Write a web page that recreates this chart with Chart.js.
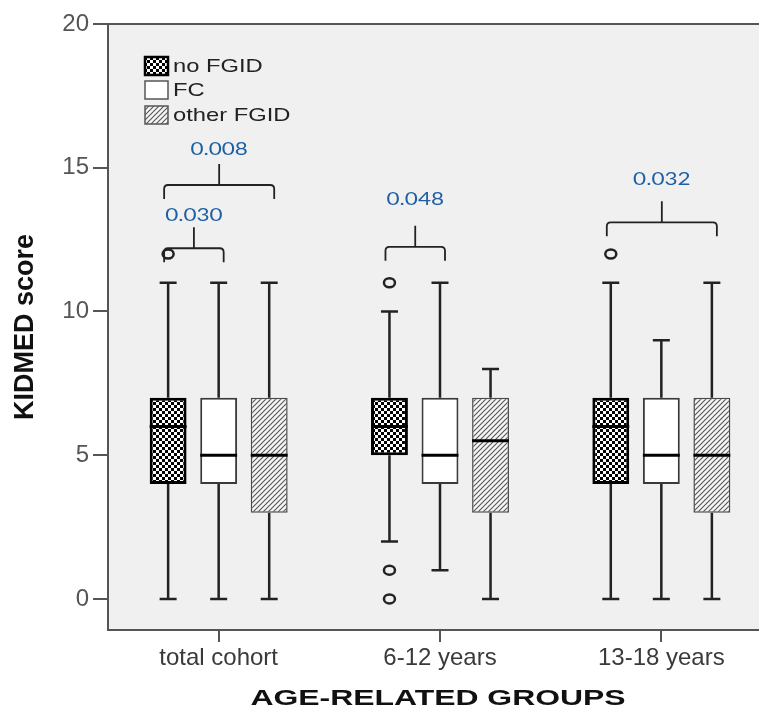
<!DOCTYPE html>
<html>
<head>
<meta charset="utf-8">
<title>KIDMED score by age-related groups</title>
<script src="https://cdn.jsdelivr.net/npm/chart.js@4.4.1/dist/chart.umd.min.js"></script>
<style>
  html, body { margin: 0; padding: 0; background: #fff; overflow: hidden; }
  #chart { display: block; }
</style>
</head>
<body>
<canvas id="chart" width="772" height="711"></canvas>
<script>
const categories = ['total cohort', '6-12 years', '13-18 years'];
const seriesNames = ['no FGID', 'FC', 'other FGID'];
const yTickValues = [0, 5, 10, 15, 20];

// box plot stats, one value per age group
const noFgidMin = [0, 2, 0];
const noFgidQ1 = [4, 5, 4];
const noFgidMedian = [6, 6, 6];
const noFgidQ3 = [7, 7, 7];
const noFgidMax = [11, 10, 11];
const noFgidOutliers = [[12], [11, 1, 0], [12]];

const fcMin = [0, 1, 0];
const fcQ1 = [4, 4, 4];
const fcMedian = [5, 5, 5];
const fcQ3 = [7, 7, 7];
const fcMax = [11, 11, 9];
const fcOutliers = [[], [], []];

const otherMin = [0, 0, 0];
const otherQ1 = [3, 3, 3];
const otherMedian = [5, 5.5, 5];
const otherQ3 = [7, 7, 7];
const otherMax = [11, 8, 11];
const otherOutliers = [[], [], []];

// significance brackets: group, first box, last box, bracket level, label level
const bracketGroup = [0, 0, 1, 2];
const bracketFrom = [0, 0, 0, 0];
const bracketTo = [2, 1, 1, 2];
const bracketLevel = [14.4, 12.2, 12.25, 13.1];
const pLabelLevel = [15.65, 13.36, 13.9, 14.6];
const pLabels = ['0.008', '0.030', '0.048', '0.032'];

const stats = [
  { min: noFgidMin, q1: noFgidQ1, median: noFgidMedian, q3: noFgidQ3, max: noFgidMax, out: noFgidOutliers },
  { min: fcMin, q1: fcQ1, median: fcMedian, q3: fcQ3, max: fcMax, out: fcOutliers },
  { min: otherMin, q1: otherQ1, median: otherMedian, q3: otherQ3, max: otherMax, out: otherOutliers }
];

const fontFamily = "'Liberation Sans', Arial, sans-serif";

// fill patterns
function makeTile(size, draw) {
  const c = document.createElement('canvas');
  c.width = size;
  c.height = size;
  draw(c.getContext('2d'), size);
  return c;
}

const checkTile = makeTile(6, (g, s) => {
  g.fillStyle = '#000';
  g.fillRect(0, 0, s, s);
  g.fillStyle = '#fff';
  g.fillRect(0, 0, 3, 3);
  g.fillRect(3, 3, 3, 3);
});

const hatchTile = makeTile(5, (g, s) => {
  g.fillStyle = '#f6f6f6';
  g.fillRect(0, 0, s, s);
  g.strokeStyle = '#5a5a5a';
  g.lineWidth = 1.2;
  g.beginPath();
  g.moveTo(0, s); g.lineTo(s, 0);
  g.moveTo(-1, 1); g.lineTo(1, -1);
  g.moveTo(s - 1, s + 1); g.lineTo(s + 1, s - 1);
  g.stroke();
});

const mainCtx = document.getElementById('chart').getContext('2d');
const fills = [
  mainCtx.createPattern(checkTile, 'repeat'),
  '#ffffff',
  mainCtx.createPattern(hatchTile, 'repeat')
];
const borders = ['#000000', '#3a3a3a', '#4a4a4a'];
const borderWidths = [3, 2, 1.5];

function stretchText(ctx, text, x, y, sx, align) {
  ctx.save();
  ctx.translate(x, y);
  ctx.scale(sx, 1);
  ctx.textAlign = align;
  ctx.fillText(text, 0, 0);
  ctx.restore();
}

const boxExtras = {
  id: 'boxExtras',
  beforeDraw(chart) {
    const { ctx, chartArea: a } = chart;
    ctx.save();
    ctx.fillStyle = '#fff';
    ctx.fillRect(0, 0, chart.width, chart.height);
    ctx.fillStyle = '#f0f0f0';
    ctx.fillRect(a.left, a.top, a.right - a.left, a.bottom - a.top);
    ctx.restore();
  },
  beforeDatasetsDraw(chart) {
    // whiskers sit behind the boxes
    const { ctx, scales: { y } } = chart;
    ctx.save();
    ctx.strokeStyle = '#222';
    ctx.lineWidth = 2.5;
    stats.forEach((s, di) => {
      chart.getDatasetMeta(di).data.forEach((bar, i) => {
        const x = bar.x;
        const hi = y.getPixelForValue(s.max[i]);
        const lo = y.getPixelForValue(s.min[i]);
        ctx.beginPath();
        ctx.moveTo(x, hi); ctx.lineTo(x, y.getPixelForValue(s.q3[i]));
        ctx.moveTo(x, y.getPixelForValue(s.q1[i])); ctx.lineTo(x, lo);
        ctx.moveTo(x - 8.5, hi); ctx.lineTo(x + 8.5, hi);
        ctx.moveTo(x - 8.5, lo); ctx.lineTo(x + 8.5, lo);
        ctx.stroke();
      });
    });
    ctx.restore();
  },
  afterDatasetsDraw(chart) {
    const { ctx, chartArea: a, scales: { y } } = chart;
    ctx.save();

    // medians and outliers
    stats.forEach((s, di) => {
      chart.getDatasetMeta(di).data.forEach((bar, i) => {
        const m = y.getPixelForValue(s.median[i]);
        ctx.strokeStyle = '#000';
        ctx.lineWidth = 3;
        ctx.beginPath();
        ctx.moveTo(bar.x - bar.width / 2, m);
        ctx.lineTo(bar.x + bar.width / 2, m);
        ctx.stroke();
        s.out[i].forEach(v => {
          ctx.strokeStyle = '#222';
          ctx.lineWidth = 2.5;
          ctx.beginPath();
          ctx.ellipse(bar.x, y.getPixelForValue(v), 5.5, 4.5, 0, 0, Math.PI * 2);
          ctx.stroke();
        });
      });
    });

    // significance brackets
    ctx.strokeStyle = '#222';
    ctx.lineWidth = 1.8;
    ctx.fillStyle = '#1d5fa3';
    ctx.font = "18px Lato, 'Open Sans', sans-serif";
    ctx.textBaseline = 'middle';
    pLabels.forEach((label, k) => {
      const g = bracketGroup[k];
      const x1 = chart.getDatasetMeta(bracketFrom[k]).data[g].x - 4;
      const x2 = chart.getDatasetMeta(bracketTo[k]).data[g].x + 5;
      const xc = (x1 + x2) / 2;
      const yh = y.getPixelForValue(bracketLevel[k]);
      const r = 4;
      ctx.beginPath();
      ctx.moveTo(x1, yh + 14);
      ctx.lineTo(x1, yh + r);
      ctx.quadraticCurveTo(x1, yh, x1 + r, yh);
      ctx.lineTo(x2 - r, yh);
      ctx.quadraticCurveTo(x2, yh, x2, yh + r);
      ctx.lineTo(x2, yh + 14);
      ctx.moveTo(xc, yh);
      ctx.lineTo(xc, yh - 21);
      ctx.stroke();
      stretchText(ctx, label, xc, y.getPixelForValue(pLabelLevel[k]), 1.25, 'center');
    });

    // legend inside the plot
    const lx = a.left + 37;
    const rows = [a.top + 42, a.top + 66, a.top + 91];
    ctx.font = '19px ' + fontFamily;
    ctx.textBaseline = 'middle';
    seriesNames.forEach((name, i) => {
      const cy = rows[i];
      ctx.fillStyle = fills[i];
      ctx.fillRect(lx, cy - 9, 23, 18);
      ctx.strokeStyle = i === 0 ? '#000' : '#555';
      ctx.lineWidth = i === 0 ? 2.5 : 1.5;
      ctx.strokeRect(lx, cy - 9, 23, 18);
      ctx.fillStyle = '#222';
      stretchText(ctx, name, lx + 28, cy + 1, 1.25, 'left');
    });

    ctx.restore();
  },
  afterDraw(chart) {
    const { ctx, chartArea: a } = chart;
    ctx.save();
    // top frame line
    ctx.strokeStyle = '#555';
    ctx.lineWidth = 2;
    ctx.beginPath();
    ctx.moveTo(a.left, a.top);
    ctx.lineTo(a.right, a.top);
    ctx.lineTo(a.right, a.bottom);
    ctx.stroke();
    // x axis title
    ctx.fillStyle = '#111';
    ctx.font = 'bold 22px ' + fontFamily;
    ctx.textBaseline = 'middle';
    stretchText(ctx, 'AGE-RELATED GROUPS', (a.left + a.right) / 2 - 2, chart.height - 12, 1.45, 'center');
    ctx.restore();
  }
};

new Chart(mainCtx, {
  type: 'bar',
  data: {
    labels: categories,
    datasets: seriesNames.map((name, i) => ({
      label: name,
      data: stats[i].q1.map((q, k) => [q, stats[i].q3[k]]),
      backgroundColor: fills[i],
      borderColor: borders[i],
      borderWidth: borderWidths[i],
      borderSkipped: false,
      categoryPercentage: 0.685,
      barPercentage: 0.73
    }))
  },
  options: {
    responsive: false,
    animation: false,
    layout: { padding: { top: 24, left: 0, right: 0, bottom: 0 } },
    plugins: {
      legend: { display: false },
      tooltip: { enabled: false }
    },
    scales: {
      x: {
        afterFit: s => { s.height = 81; },
        ticks: {
          font: { family: fontFamily, size: 24 },
          color: '#3a3a3a',
          padding: 2,
          maxRotation: 0
        },
        grid: {
          offset: false,
          drawOnChartArea: false,
          drawTicks: true,
          tickLength: 12,
          color: '#555',
          lineWidth: 2
        },
        border: { display: true, color: '#555', width: 2 }
      },
      y: {
        min: -1.08,
        max: 20,
        afterBuildTicks: s => { s.ticks = yTickValues.map(v => ({ value: v })); },
        afterFit: s => { s.width = 108; },
        ticks: {
          font: { family: fontFamily, size: 24 },
          color: '#555',
          padding: 4
        },
        grid: {
          drawOnChartArea: false,
          drawTicks: true,
          tickLength: 15,
          color: '#555',
          lineWidth: 2
        },
        border: { display: true, color: '#555', width: 2 },
        title: {
          display: true,
          text: 'KIDMED score',
          color: '#111',
          font: { family: fontFamily, size: 27, weight: 'bold' },
          padding: { top: 9, bottom: 0 }
        }
      }
    }
  },
  plugins: [boxExtras]
});
</script>
</body>
</html>
